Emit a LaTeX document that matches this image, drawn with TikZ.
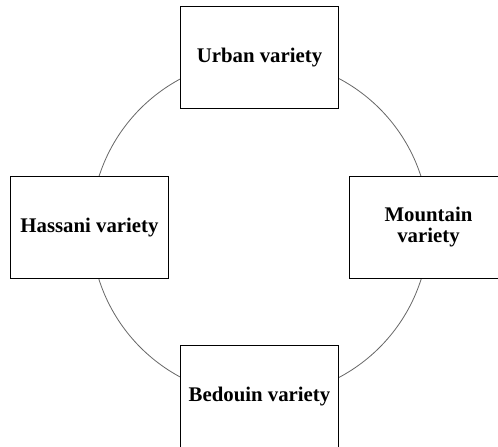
\documentclass[tikz,border=0pt]{standalone}
\usepackage{fontspec}
\setmainfont{Liberation Serif}
\begin{document}
\begin{tikzpicture}[x=1pt,y=-1pt,
  variety/.style={draw=black, line width=1.5pt, fill=white,
    minimum width=158pt, minimum height=102pt, inner sep=0pt,
    align=center, font=\fontsize{20.8}{21}\selectfont\bfseries},
  ring/.style={draw=black!60, line width=0.8pt}]
  \useasboundingbox (0,0) rectangle (498,447);
  \clip (0,0) rectangle (498,447);
  % ring behind the four varieties
  \coordinate (hub) at (260,228);
  \draw[ring] (hub) circle[radius=169];
  % the four varieties
  \node[variety] (urban)    at (259.5,57.5)  {\raisebox{3pt}{Urban variety}};
  \node[variety] (hassani)  at (89.5,227.5)  {Hassani variety};
  \node[variety] (mountain) at (428.5,227.5) {Mountain\\variety};
  \node[variety] (bedouin)  at (259.5,396.5) {Bedouin variety};
\end{tikzpicture}
\end{document}
